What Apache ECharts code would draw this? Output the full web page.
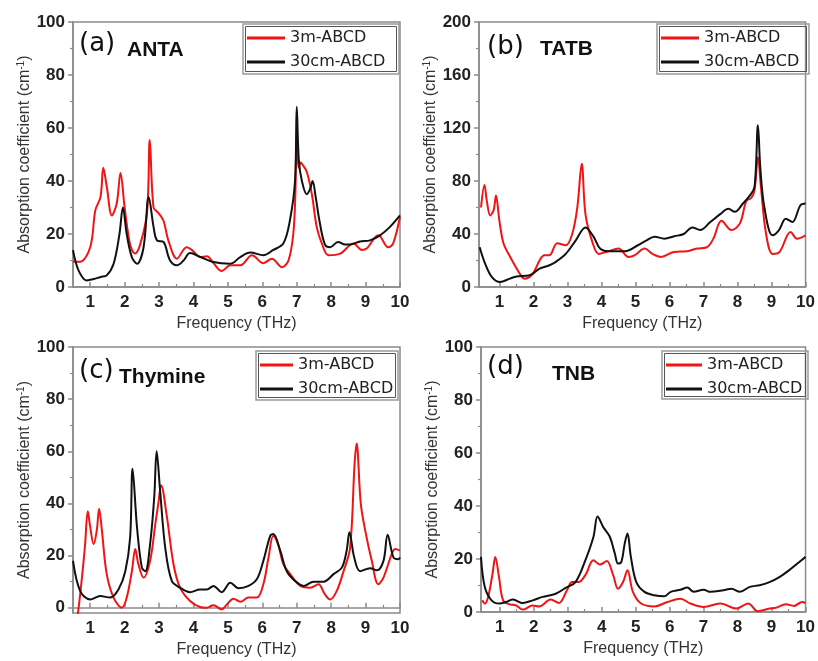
<!DOCTYPE html>
<html>
<head>
<meta charset="utf-8">
<script src="https://cdn.jsdelivr.net/npm/echarts@6/dist/echarts.min.js"></script>
<style>
html,body{margin:0;padding:0;background:#fff;}
#chart{width:818px;height:661px;}
</style>
</head>
<body>
<div id="chart"></div>
<script>
// ---------- data ----------
const seriesNames = ['3m-ABCD', '30cm-ABCD'];
const xTickValues = [1, 2, 3, 4, 5, 6, 7, 8, 9, 10];
const xMinorValues = [1.5, 2.5, 3.5, 4.5, 5.5, 6.5, 7.5, 8.5, 9.5];
const panelLetters = ['(a)', '(b)', '(c)', '(d)'];
const panelNames = ['ANTA', 'TATB', 'Thymine', 'TNB'];

// (a) ANTA
const aRedX = [0.5,0.7,1.0,1.15,1.3,1.38,1.48,1.63,1.77,1.88,2.0,2.16,2.3,2.45,2.65,2.73,2.84,2.98,3.13,3.27,3.52,3.8,3.95,4.2,4.39,4.58,4.82,5.07,5.36,5.7,6.03,6.28,6.57,6.76,6.9,6.96,7.0,7.05,7.12,7.15,7.29,7.44,7.58,7.73,7.92,8.26,8.65,8.89,9.03,9.37,9.66,9.8,10];
const aRedY = [9.5,9.5,15,29,34,45,38,27,31.5,43,30,16,12.6,16,28,55.5,30,28,25,17.6,10.7,15,14,11.3,11.6,9,6,8.2,8.2,12,9,10.7,7.5,10,20,35,60,45,47,46.5,43.5,35,22.7,16.4,12,12.6,16.4,14,14.5,19.5,15,16.4,26.5];
const aBlkX = [0.5,0.66,0.9,1.1,1.3,1.48,1.68,1.85,1.95,2.06,2.21,2.36,2.55,2.7,2.84,2.94,3.13,3.32,3.52,3.71,3.9,4.2,4.58,5.07,5.36,5.65,6.03,6.32,6.61,6.8,6.95,7.0,7.06,7.15,7.29,7.39,7.46,7.55,7.66,7.82,7.97,8.2,8.4,8.55,8.84,9.13,9.42,9.71,10];
const aBlkY = [13.9,6.3,2.5,3,3.8,4.4,8.8,20,30,20,11.3,8.8,15,34,22.7,17.6,17,10,8.2,10,12.8,11.3,9.4,8.8,11.3,13,12,14,16.4,25,40,68,48,40,35,37,40,34,25,16,15,17,16,16,17.2,17.6,19.5,22.7,27];

// (b) TATB
const bRedX = [0.46,0.56,0.63,0.73,0.83,0.9,1.0,1.12,1.31,1.6,1.74,1.98,2.18,2.32,2.47,2.7,2.95,3.14,3.29,3.42,3.53,3.72,3.92,4.2,4.5,4.8,4.98,5.27,5.5,5.75,6.13,6.52,6.81,7.1,7.29,7.53,7.82,8.07,8.26,8.4,8.5,8.6,8.69,8.84,9.03,9.22,9.56,9.75,10];
const bRedY = [60,77,65,54,58,69,50,33,23,10,6.3,10,20,24,24,33,31.5,40,60,93,55,35,25,27,29,22.7,24,29,25,22.7,26.4,27,29,30,36.5,50,43,48,65,67,73,98,75,40,25,26,41.5,36.5,39];
const bBlkX = [0.42,0.58,0.78,1.02,1.31,1.5,1.89,2.18,2.47,2.66,2.95,3.24,3.53,3.77,3.96,4.2,4.69,5.07,5.31,5.56,5.85,6.14,6.42,6.67,6.9,7.2,7.49,7.73,7.92,8.16,8.36,8.5,8.6,8.67,8.79,9.03,9.22,9.42,9.61,9.85,10];
const bBlkY = [30,17.6,7.5,3.8,6.3,8,8.8,13.9,16.4,19,25,35,45,37.8,29,27,27,31.5,35,38,36.5,38.3,40,45,43,49,55,59,56.7,63,69,75.5,122,90,60,39,43,51.6,49,61.7,63];

// (c) Thymine
const cRedX = [0.55,0.64,0.76,0.85,0.93,1.0,1.1,1.19,1.26,1.34,1.48,1.68,1.92,2.06,2.21,2.31,2.4,2.55,2.74,2.89,2.98,3.06,3.23,3.42,3.61,3.9,4.19,4.39,4.58,4.82,4.97,5.16,5.36,5.6,5.84,6.03,6.18,6.32,6.47,6.61,6.81,7.1,7.39,7.63,7.82,7.97,8.16,8.36,8.55,8.68,8.74,8.86,8.99,9.18,9.37,9.52,9.76,9.86,10];
const cRedY = [-10,-2.5,11.6,24,37,31,24.4,29.6,38,29.6,12.9,3.9,0,3.9,14,22.5,16.7,11.6,18,32,40,47,34.7,16.7,7.7,2.6,0.3,0,1,-0.6,1.3,3.5,2.3,3.9,3.9,9,19.3,27.6,23.8,16.7,12.9,8.4,7.7,9,5.1,3.2,6.4,14,23,55,63,40,29.6,18,9,11.6,20.6,22.5,21.9];
const cBlkX = [0.5,0.71,1.0,1.29,1.58,1.82,2.02,2.16,2.23,2.36,2.5,2.6,2.74,2.86,2.93,3.03,3.18,3.37,3.61,3.9,4.19,4.39,4.58,4.82,5.07,5.31,5.6,5.84,6.03,6.23,6.32,6.52,6.71,6.95,7.2,7.49,7.78,8.07,8.31,8.45,8.53,8.67,8.84,9.13,9.33,9.52,9.64,9.81,9.95,10];
const cBlkY = [18,6.4,3.2,4.5,3.9,7,14,27,53.3,30.8,15.4,14,24.4,42.4,60,45,23,10.3,7.7,6,7,7,8.4,6,9.6,7.5,8.4,10.9,18,27.6,28.3,21.9,14,10.3,8.4,10,10,12.9,15.4,21.9,29,19.3,14,15.2,14.4,18,28,19.3,18.6,19.3];

// (d) TNB
const dRedX = [0.49,0.56,0.66,0.79,0.87,0.98,1.1,1.29,1.48,1.68,1.97,2.16,2.5,2.74,2.98,3.13,3.32,3.52,3.76,3.95,4.15,4.34,4.48,4.63,4.76,4.92,5.16,5.55,5.94,6.32,6.61,7.0,7.49,7.97,8.31,8.6,8.94,9.13,9.42,9.66,9.9,10];
const dRedY = [4.4,3.2,5.7,14.5,20.8,13.2,4.4,2.9,2.5,0.9,2.5,2.1,4.7,3.4,8.2,11.3,11.3,13.9,19.5,17.9,19.2,13.9,8.8,11.3,15.8,7.6,3.2,2.1,3.8,5,3.2,1.9,3.2,1.3,3.2,0.3,1.3,1.6,2.9,2.3,3.8,3.4];
const dBlkX = [0.45,0.56,0.76,1.0,1.19,1.39,1.68,1.97,2.26,2.65,2.94,3.23,3.52,3.76,3.88,4.05,4.24,4.39,4.48,4.58,4.68,4.76,4.86,5.02,5.26,5.55,5.84,6.03,6.32,6.52,6.71,7.0,7.2,7.58,7.82,8.07,8.36,8.65,8.94,9.23,9.52,9.76,10];
const dBlkY = [20.8,9.5,4.4,3.2,3.8,4.7,3.4,4.4,5.7,6.9,9.1,11.3,19.5,28.4,36,32,28.4,22,18.3,18.9,25.9,29.6,20.8,11.3,7.6,6.3,5.9,7.6,8.4,9.2,7.6,8.4,7.6,8.2,8.8,7.6,9.5,10.1,11.3,13.2,15.8,18.3,20.8];

// y-axis tick labels
const yTicks100 = [0, 20, 40, 60, 80, 100];
const yMinor100 = [10, 30, 50, 70, 90];

// ---------- build ----------
const zip = (xs, ys) => xs.map((x, i) => [x, ys[i]]);
const panelData = [
  [zip(aRedX, aRedY), zip(aBlkX, aBlkY)],
  [zip(bRedX, bRedY), zip(bBlkX, bBlkY)],
  [zip(cRedX, cRedY), zip(cBlkX, cBlkY)],
  [zip(dRedX, dRedY), zip(dBlkX, dBlkY)]
];
const grids = [
  {left: 73, top: 22, width: 327, height: 265},
  {left: 479, top: 22, width: 331, height: 265},
  {left: 73, top: 347, width: 327, height: 266},
  {left: 481, top: 347, width: 329, height: 265}
];
const xMins = [0.5, 0.4, 0.5, 0.45];
const AX = '#8a8a8a';
const LBL = '#222';
const sans = '"Liberation Sans", Arial, sans-serif';

const xAxis = [], yAxis = [], series = [], legend = [], graphic = [];
grids.forEach((g, i) => {
  xAxis.push({
    type: 'value', gridIndex: i, min: xMins[i], max: 10,
    name: 'Frequency (THz)', nameLocation: 'middle', nameGap: 29,
    nameTextStyle: {fontFamily: sans, fontSize: 16, color: '#333'},
    axisLine: {lineStyle: {color: AX, width: 1.5}},
    axisTick: {customValues: xTickValues, inside: true, length: 5, lineStyle: {color: AX, width: 1.5}},
    axisLabel: {customValues: xTickValues, fontFamily: sans, fontWeight: 'bold', fontSize: 17, color: LBL, margin: 7},
    splitLine: {show: false}
  });
});
grids.forEach((g, i) => {
  xAxis.push({
    type: 'value', gridIndex: i, min: xMins[i], max: 10, position: 'bottom',
    axisLine: {show: false},
    axisTick: {customValues: xMinorValues, inside: true, length: 3, lineStyle: {color: AX, width: 1.2}},
    axisLabel: {show: false}, splitLine: {show: false}
  });
});
const yName = 'Absorption coefficient (cm{sup|-1})';
const yNameStyle = {fontFamily: sans, fontSize: 16, color: '#333',
  rich: {sup: {fontFamily: sans, fontSize: 10, color: '#333', verticalAlign: 'top'}}};
grids.forEach((g, i) => {
  const base = {
    type: 'value', gridIndex: i,
    name: yName, nameLocation: 'middle', nameGap: 40, nameTextStyle: yNameStyle,
    axisLine: {show: true, lineStyle: {color: AX, width: 1.5}},
    axisTick: {length: 5, lineStyle: {color: AX, width: 1.5}},
    axisLabel: {fontFamily: sans, fontWeight: 'bold', fontSize: 17, color: LBL, margin: 8},
    splitLine: {show: false}
  };
  if (i === 1) {
    Object.assign(base, {min: 0, max: 200, interval: 40,
      minorTick: {show: true, splitNumber: 2, length: 3, lineStyle: {color: AX, width: 1.2}}});
  } else if (i === 2) {
    Object.assign(base, {min: -2, max: 100});
    base.axisTick = Object.assign({}, base.axisTick, {customValues: yTicks100});
    base.axisLabel = Object.assign({}, base.axisLabel, {customValues: yTicks100});
  } else {
    Object.assign(base, {min: 0, max: 100, interval: 20,
      minorTick: {show: true, splitNumber: 2, length: 3, lineStyle: {color: AX, width: 1.2}}});
  }
  yAxis.push(base);
});
yAxis.push({
  type: 'value', gridIndex: 2, min: -2, max: 100, position: 'left',
  axisLine: {show: false},
  axisTick: {customValues: yMinor100, length: 3, lineStyle: {color: AX, width: 1.2}},
  axisLabel: {show: false}, splitLine: {show: false}
});

const colors = ['#f01414', '#111111'];
panelData.forEach((pd, i) => {
  pd.forEach((d, k) => {
    series.push({
      type: 'line', name: seriesNames[k], xAxisIndex: i, yAxisIndex: i,
      data: d, showSymbol: false, symbol: 'none', smooth: 0.35,
      lineStyle: {color: colors[k], width: 2}, itemStyle: {color: colors[k]},
      z: 2 + k, clip: true
    });
  });
});

const legendBoxes = [
  {x: 243, y: 24, w: 156, h: 50, iw: 38},
  {x: 657, y: 24, w: 152, h: 50, iw: 38},
  {x: 256, y: 351, w: 142, h: 49, iw: 33},
  {x: 662, y: 351, w: 146, h: 48, iw: 36}
];
legendBoxes.forEach((b) => {
  legend.push({
    data: seriesNames, orient: 'vertical', left: b.x + 2, top: b.y + 2,
    icon: 'rect', itemWidth: b.iw, itemHeight: 3, itemGap: 4,
    padding: [2, 3, 0, 2],
    borderWidth: 0,
    textStyle: {fontFamily: '"DejaVu Sans", sans-serif', fontSize: 16, color: '#222', lineHeight: 20}
  });
  graphic.push({
    type: 'rect', silent: true,
    shape: {x: b.x, y: b.y, width: b.w, height: b.h},
    style: {fill: null, stroke: '#9a9a9a', lineWidth: 1.5}
  });
  graphic.push({
    type: 'rect', silent: true,
    shape: {x: b.x + 2.5, y: b.y + 2.5, width: b.w - 5, height: b.h - 5},
    style: {fill: null, stroke: '#555', lineWidth: 1}
  });
});

const letterPos = [[79, 44], [487, 47], [79, 371], [487, 367]];
const namePos = [[127, 50], [540, 49], [119, 377], [552, 374]];
panelLetters.forEach((t, i) => {
  graphic.push({type: 'text', x: letterPos[i][0], y: letterPos[i][1], silent: true,
    style: {text: t, font: '26px "DejaVu Sans", sans-serif', fill: '#111', verticalAlign: 'middle'}});
  graphic.push({type: 'text', x: namePos[i][0], y: namePos[i][1], silent: true,
    style: {text: panelNames[i], font: 'bold 21px "Liberation Sans", Arial, sans-serif', fill: '#111', verticalAlign: 'middle'}});
});

const chart = echarts.init(document.getElementById('chart'), null, {renderer: 'canvas'});
chart.setOption({
  animation: false,
  backgroundColor: '#ffffff',
  grid: grids.map(g => Object.assign({show: true, borderColor: AX, borderWidth: 1.5, backgroundColor: 'transparent', containLabel: false}, g)),
  xAxis, yAxis, series, legend, graphic
});
</script>
</body>
</html>
